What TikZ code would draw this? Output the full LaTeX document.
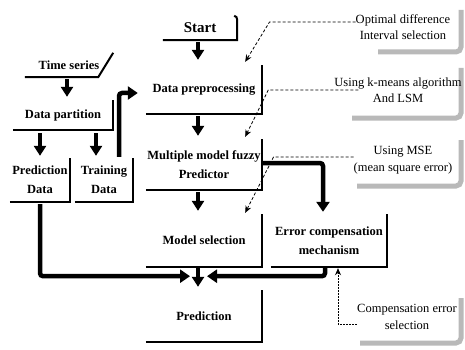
\documentclass[tikz,border=0pt]{standalone}
\usepackage{fontspec}
\setmainfont{Liberation Serif}
\usetikzlibrary{arrows.meta,calc}
\begin{document}
\begin{tikzpicture}[x=1pt,y=-1pt,
  boxtext/.style={font=\bfseries\fontsize{12.5}{19}\selectfont, align=center, inner sep=0pt},
  frame/.style={line width=2pt},
  flow/.style={line width=3.2pt, -{Triangle[length=10pt,width=12pt]}},
  bigflow/.style={line width=4.5pt, rounded corners=3pt, -{Triangle[length=10pt,width=13pt]}},
  note/.style={font=\fontsize{12.5}{16.5}\selectfont, align=center, inner sep=0pt},
  shade/.style={line width=5pt, gray!55, rounded corners=5pt},
  hint/.style={line width=0.8pt, dash pattern=on 3pt off 2pt, -{Stealth[length=7pt,width=6pt]}}
]
\useasboundingbox[fill=white] (0,0) rectangle (465,350);

% gray shadows of the notes
\draw[shade] (378,52) -- (461,52) -- (461,10);
\draw[shade] (352,118) -- (461,118) -- (461,68);
\draw[shade] (357,186) -- (461,186) -- (461,140);
\draw[shade] (360,343) -- (461,343) -- (461,298);

% main column
\node[boxtext, font=\bfseries\fontsize{15}{18}\selectfont, minimum width=74pt, minimum height=24pt] (start) at (200,28) {Start};
\node[boxtext, minimum width=116pt, minimum height=49pt] (prep) at (204,89.5) {Data preprocessing};
\node[boxtext, minimum width=116pt, minimum height=51pt] (multi) at (204,164.5) {Multiple model fuzzy\\Predictor};
\node[boxtext, minimum width=116pt, minimum height=53pt] (model) at (204,240.5) {Model selection};
\node[boxtext, minimum width=116pt, minimum height=52pt] (pred) at (204,316) {Prediction};
\node[boxtext, minimum width=116pt, minimum height=53pt] (err) at (329,240.5) {Error compensation\\mechanism};

% left column
\node[boxtext, minimum width=88pt, minimum height=24pt] (ts) at (69,65) {Time series};
\node[boxtext, minimum width=100pt, minimum height=30pt] (part) at (63,115) {Data partition};
\node[boxtext, minimum width=60pt, minimum height=44pt] (predd) at (40,180) {Prediction\\Data};
\node[boxtext, minimum width=58pt, minimum height=44pt] (train) at (104,180) {Training\\Data};

% frames (bottom and right sides)
\draw[frame] (start.south west) -- (start.south east) -- ([yshift=-4pt]start.north east) to[out=90,in=0] ([xshift=-3pt]start.north east);
\foreach \n in {prep,multi,model,pred,err,part,predd,train}
  \draw[frame] (\n.south west) -- (\n.south east) -- (\n.north east);
\draw[frame] (ts.south west) -- ([xshift=-15pt]ts.south east) -- (ts.north east);

% flow arrows
\draw[flow, shorten <=2pt, shorten >=5pt] ([xshift=-2pt]start.south) -- ([xshift=-6pt]prep.north);
\draw[flow, shorten <=2pt, shorten >=3pt] ([xshift=-6pt]prep.south) -- ([xshift=-6pt]multi.north);
\draw[flow, shorten <=2pt, shorten >=3pt] ([xshift=-6pt]multi.south) -- ([xshift=-6pt]model.north);
\draw[flow, shorten <=1pt, shorten >=3pt] ([xshift=-6pt]model.south) -- ([xshift=-6pt]pred.north);
\draw[flow, shorten <=2pt, shorten >=3pt] ([xshift=-2pt]ts.south) -- ([xshift=4pt]part.north);
\draw[flow, shorten <=3pt, shorten >=2pt] ([xshift=-23pt]part.south) -- (predd.north);
\draw[flow, shorten <=3pt, shorten >=2pt] ([xshift=33pt]part.south) -- ([xshift=-8pt]train.north);

% thick connectors
\draw[bigflow] ([xshift=15pt,yshift=1pt]train.north) |- ([xshift=-8pt,yshift=-3.5pt]prep.west);
\draw[bigflow] ([yshift=1.5pt]multi.east) -| ([xshift=-6pt,yshift=2pt]err.north);
\draw[bigflow, shorten <=2pt] (predd.south) |- ([xshift=-14pt,yshift=-9pt]model.south);
\draw[bigflow] ([xshift=-4pt]err.south) |- ([xshift=3pt,yshift=-9pt]model.south);

% notes
\node[note] (n1) at (403,27) {Optimal difference\\Interval selection};
\node[note] (n2) at (398,90) {Using k-means algorithm\\And LSM};
\node[note] (n3) at (403,160) {Using MSE\\(mean square error)};
\node[note] (n4) at (407,317) {Compensation error\\selection};

% dashed hints
\draw[hint] ([yshift=5pt]n1.west) -- ++(-86,0) -- ([xshift=-17pt,yshift=3pt]prep.north east);
\draw[hint] ([xshift=24pt]n2.west) -- ++(-90,0) -- ([xshift=-17pt,yshift=2pt]multi.north east);
\draw[hint] ([yshift=3pt]n3.west) -- ++(-80,0) -- ([xshift=-17pt,yshift=1pt]model.north east);
\draw[hint, dash pattern=on 1.5pt off 1.5pt] ([yshift=-7pt]n4.west) -| ([xshift=9pt,yshift=-1pt]err.south);
\end{tikzpicture}
\end{document}
